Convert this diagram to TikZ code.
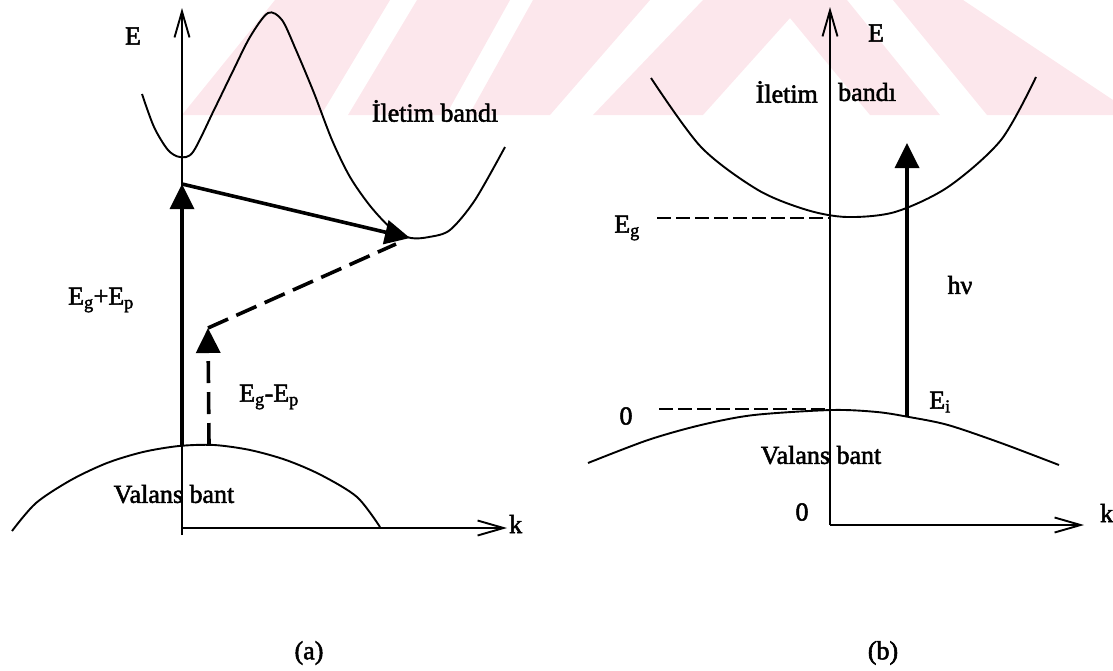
\documentclass[tikz,border=0pt]{standalone}
\usepackage{fontspec}
\setmainfont{Liberation Serif}
\usetikzlibrary{arrows.meta}
\definecolor{wm}{RGB}{252,231,236}
\begin{document}
\begin{tikzpicture}[x=1pt,y=-1pt,
  lbl/.style={font=\fontsize{26}{30}\selectfont\addfontfeatures{FakeBold=2}, inner sep=0pt},
  band/.style={line width=1.9pt},
  axisline/.style={line width=1.9pt, -{Straight Barb[length=26pt,width=15pt,line width=1.9pt]}},
  thickarrow/.style={line width=3.6pt, -{Triangle[length=25pt,width=24pt]}},
  dasharrow/.style={line width=3.6pt, dash pattern=on 22pt off 9pt, -{Triangle[length=25pt,width=24pt]}},
  dashline/.style={line width=3.6pt, dash pattern=on 22pt off 9pt},
  guide/.style={line width=1.4pt, dash pattern=on 14pt off 5pt},
  wmark/.style={fill=wm, draw=none}
]
\useasboundingbox (0,0) rectangle (1113,670);

% watermark
\fill[wmark] (182,115) -- (275,0) -- (390,0) -- (321,115) -- cycle;
\fill[wmark] (348,115) -- (417,0) -- (510,0) -- (446,115) -- cycle;
\fill[wmark] (469,115) -- (533,0) -- (650,0) -- (550,115) -- cycle;
\fill[wmark] (593,115) -- (703,0) -- (847,0) -- (940,115) -- (870,115) -- (790,18) -- (703,115) -- cycle;
\fill[wmark] (893,0) -- (963,0) -- (1113,100) -- (1113,115) -- (987,115) -- cycle;

% ---------------- panel (a) ----------------
\coordinate (LaxB) at (182,535);
\coordinate (LaxT) at (182,8);
\coordinate (Lk0) at (182,528);
\coordinate (LkE) at (507,528);
\draw[axisline] (LaxB) -- (LaxT);
\draw[axisline] (Lk0) -- (LkE);
\node[lbl] (LE) at (133,36) {E};
\node[lbl, anchor=base west] (Lk) at (509,533) {k};

% valence band
\draw[band] plot[smooth] coordinates {(12,531) (36,503) (71,480) (107,463) (143,452) (179,446) (214,445) (250,450) (286,460) (321,475) (357,497) (380,527)};
% conduction band
\draw[band] plot[smooth] coordinates {(142,94) (154,127) (168,150) (180,157) (193,152) (214,110) (232,73) (250,37) (268,13) (282,20) (296,50) (314,93) (332,140) (350,177) (371,207) (393,230) (411,238) (429,237) (450,230) (475,200) (505,147)};

\coordinate (A1) at (182,445);
\coordinate (A2) at (182,184);
\coordinate (A3) at (410,238);
\draw[thickarrow] (A1) -- (A2);
\draw[thickarrow] (A2) -- (A3);
\coordinate (B1) at (209,445);
\coordinate (B2) at (208,328);
\coordinate (B3) at (396,244);
\draw[dasharrow] (B1) -- (B2);
\draw[dashline] (B2) -- (B3);

\node[lbl] (Lsum) at (101,300) {E\textsubscript{g}+E\textsubscript{p}};
\node[lbl] (Ldiff) at (269,397) {E\textsubscript{g}-E\textsubscript{p}};
\node[lbl] (Lcb) at (435,111) {İletim bandı};
\node[lbl] (Lvb) at (174,494) {Valans bant};
\node[lbl] (Lcap) at (309,653) {(a)};

% ---------------- panel (b) ----------------
\coordinate (RaxB) at (830,525);
\coordinate (RaxT) at (830,7);
\coordinate (RkE) at (1084,525);
\draw[axisline] (RaxB) -- (RaxT);
\draw[axisline] (RaxB) -- (RkE);
\node[lbl] (RE) at (876,33) {E};
\node[lbl, anchor=base west] (Rk) at (1100,522) {k};

\draw[band] plot[smooth] coordinates {(651,78) (701,147) (758,190) (807,210) (847,217) (895,212) (948,187) (1001,140) (1036,77)};
\draw[band] plot[smooth] coordinates {(588,463) (648,440) (701,425) (754,415) (832,410) (877,412) (909,417) (948,425) (1001,443) (1059,465)};

\coordinate (G1) at (657,218);
\coordinate (G2) at (829,218);
\coordinate (Z1) at (659,409);
\coordinate (Z2) at (829,409);
\draw[guide] (G1) -- (G2);
\draw[guide] (Z1) -- (Z2);

\coordinate (H1) at (907,417);
\coordinate (H2) at (907,143);
\draw[thickarrow] (H1) -- (H2);

\node[lbl] (REg) at (627,228) {E\textsubscript{g}};
\node[lbl] (R0a) at (626,416) {0};
\node[lbl] (R0b) at (802,512) {0};
\node[lbl] (Rhv) at (960,285) {hν};
\node[lbl] (REi) at (940,402) {E\textsubscript{i}};
\node[lbl, anchor=east] (Rcb1) at (818,92) {İletim};
\node[lbl, anchor=west] (Rcb2) at (838,92) {bandı};
\node[lbl] (Rvb) at (821,455) {Valans bant};
\node[lbl] (Rcap) at (883,653) {(b)};
\end{tikzpicture}
\end{document}
